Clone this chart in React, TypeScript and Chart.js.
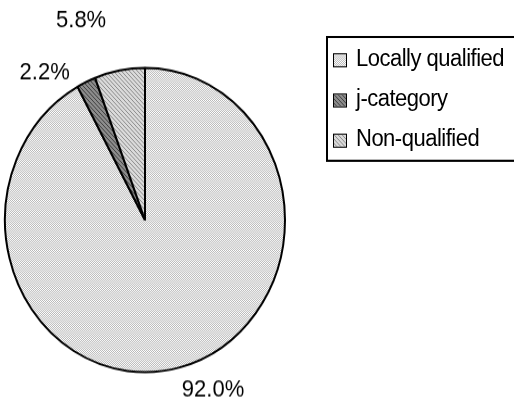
import React, { useEffect, useMemo, useRef } from "react";
import { Chart, registerables } from "chart.js";

Chart.register(...registerables);

// ---- data ----
const categories: string[] = ["Locally qualified", "j-category", "Non-qualified"];
const shares: number[] = [92.0, 2.2, 5.8];

// ---- styling helpers ----
const W = 514;
const H = 370; // drawn height, stretched to 402 like the reference
const STRETCH = 402 / H;
const FONT = '"Liberation Sans", Arial, sans-serif';

function makeTile(kind: number): HTMLCanvasElement {
  const c = document.createElement("canvas");
  const g = c.getContext("2d") as CanvasRenderingContext2D;
  if (kind === 0) {
    c.width = 2;
    c.height = 2;
    g.fillStyle = "#ffffff";
    g.fillRect(0, 0, 2, 2);
    g.fillStyle = "#b8b8b8";
    g.fillRect(0, 0, 1, 1);
    g.fillRect(1, 1, 1, 1);
  } else if (kind === 1) {
    c.width = 4;
    c.height = 4;
    g.fillStyle = "#8c8c8c";
    g.fillRect(0, 0, 4, 4);
    g.fillStyle = "#404040";
    for (let i = 0; i < 4; i++) g.fillRect(i, i, 1, 1);
  } else {
    c.width = 4;
    c.height = 4;
    g.fillStyle = "#dadada";
    g.fillRect(0, 0, 4, 4);
    g.fillStyle = "#8e8e8e";
    for (let i = 0; i < 4; i++) g.fillRect(i, i, 1, 1);
  }
  return c;
}

const LABEL_NUDGE: number[][] = [
  [27, -3],
  [-31, 14],
  [-34, -21],
];

const labelPlugin = {
  id: "pieLabels",
  afterDatasetsDraw(chart: any) {
    const ctx = chart.ctx as CanvasRenderingContext2D;
    const meta = chart.getDatasetMeta(0);
    const values = chart.data.datasets[0].data as number[];
    ctx.save();
    ctx.font = `22px ${FONT}`;
    ctx.fillStyle = "#000";
    ctx.textAlign = "center";
    ctx.textBaseline = "middle";
    meta.data.forEach((arc: any, i: number) => {
      const p = arc.getProps(["x", "y", "startAngle", "endAngle", "outerRadius"], true);
      const mid = (p.startAngle + p.endAngle) / 2;
      const r = p.outerRadius + 25;
      const n = LABEL_NUDGE[i] || [0, 0];
      ctx.fillText(
        `${values[i].toFixed(1)}%`,
        p.x + Math.cos(mid) * r + n[0],
        p.y + Math.sin(mid) * r + n[1]
      );
    });
    ctx.restore();
  },
};

export default function App() {
  const ref = useRef<HTMLCanvasElement | null>(null);
  const tiles = useMemo(() => categories.map((_, i) => makeTile(i)), []);

  useEffect(() => {
    const canvas = ref.current;
    if (!canvas) return;
    const g = canvas.getContext("2d") as CanvasRenderingContext2D;
    const patterns = tiles.map((t) => g.createPattern(t, "repeat"));
    const chart = new Chart(canvas, {
      type: "pie",
      data: {
        labels: categories,
        datasets: [
          {
            data: shares,
            backgroundColor: patterns as any,
            borderColor: "#000000",
            borderWidth: 2,
          },
        ],
      },
      options: {
        responsive: false,
        animation: false,
        events: [],
        layout: { padding: { left: 4, right: 228, top: 61, bottom: 26 } },
        plugins: {
          legend: { display: false },
          tooltip: { enabled: false },
        },
      },
      plugins: [labelPlugin],
    });
    return () => chart.destroy();
  }, [tiles]);

  const baselines = [61.4, 98.2, 135];

  return (
    <div
      style={{
        position: "fixed",
        left: 0,
        top: 0,
        width: W,
        height: H,
        overflow: "hidden",
        background: "#fff",
        transform: `scaleY(${STRETCH})`,
        transformOrigin: "0 0",
      }}
    >
      <canvas ref={ref} width={W} height={H} style={{ display: "block", width: W, height: H }} />
      <div
        style={{
          position: "absolute",
          left: 326,
          top: 33,
          width: 210,
          height: 116,
          border: "2px solid #000",
          boxSizing: "border-box",
        }}
      />
      {categories.map((name, i) => (
        <React.Fragment key={name}>
          <div
            style={{
              position: "absolute",
              left: 333,
              top: baselines[i] - 12,
              width: 14,
              height: 13,
              boxSizing: "border-box",
              border: "1.5px solid #000",
              backgroundImage: `url(${tiles[i].toDataURL()})`,
              backgroundRepeat: "repeat",
            }}
          />
          <div
            style={{
              position: "absolute",
              left: 356,
              top: baselines[i] - 18.7,
              fontFamily: FONT,
              fontSize: 22,
              lineHeight: "22px",
              letterSpacing: "-0.5px",
              whiteSpace: "nowrap",
              color: "#000",
            }}
          >
            {name}
          </div>
        </React.Fragment>
      ))}
    </div>
  );
}
